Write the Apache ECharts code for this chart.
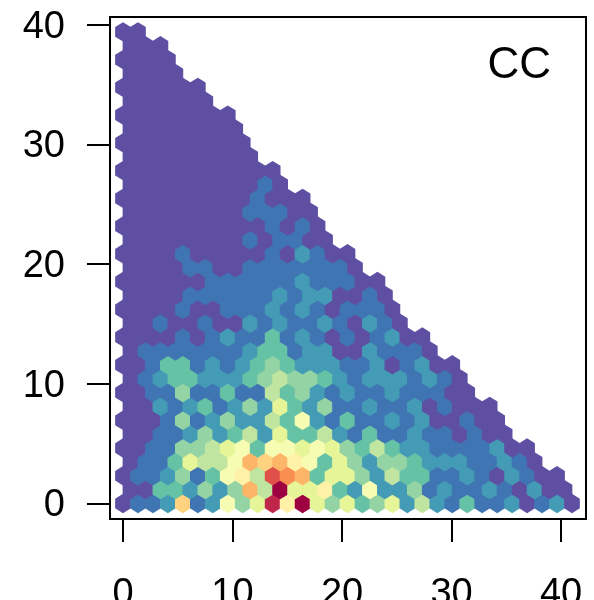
<!DOCTYPE html>
<html>
<head>
<meta charset="utf-8">
<style>html,body{margin:0;padding:0;background:#fff}#chart{width:594px;height:600px}</style>
<script src="https://cdn.jsdelivr.net/npm/echarts@6/dist/echarts.min.js"></script>
</head>
<body>
<div id="chart"></div>
<script>
// hexagon colour level per cell, row 0 is the bottom row, odd rows sit half a cell to the right
const hexRows = [
  [0,1,1,2,9,1,2,7,4,6,13,8,14,6,4,6,3,4,6,2,5,2,1,3,1,1,2,0,1,2,0],
  [0,0,3,3,2,4,2,4,10,5,14,6,6,8,3,2,7,2,2,4,1,2,1,1,2,1,0,2,0,0],
  [0,1,1,2,4,1,3,7,8,5,12,11,10,3,6,6,4,2,5,3,3,1,1,2,1,0,2,1,0,0],
  [0,1,1,3,6,5,5,7,10,9,10,8,7,3,6,4,2,4,4,3,2,2,2,1,1,2,1,0],
  [0,0,1,1,4,4,5,6,7,3,7,7,6,7,6,4,3,5,3,2,2,1,1,1,1,2,0,0],
  [0,0,1,1,2,4,2,3,5,2,6,3,3,5,2,1,3,1,1,2,1,1,0,1,0,0],
  [0,0,0,1,4,1,2,4,2,2,5,3,7,2,1,3,1,1,2,1,2,0,0,1,0,0],
  [0,0,2,1,2,3,1,2,4,2,6,3,2,4,1,1,2,1,1,2,0,1,0,0,0],
  [0,0,1,1,4,1,1,3,1,1,5,3,4,2,1,2,1,1,2,1,1,1,0,0],
  [0,1,2,3,3,2,2,2,3,4,5,4,4,3,2,1,2,2,2,1,2,1,0],
  [0,0,1,3,3,1,2,1,2,3,4,3,2,2,2,1,1,2,0,1,2,0,0],
  [0,1,1,1,1,1,1,1,2,3,3,1,2,2,0,0,2,1,1,1,0],
  [0,0,0,0,1,0,1,2,1,1,3,1,2,1,0,1,0,1,2,0,0],
  [0,0,1,0,0,1,0,0,2,1,2,1,1,2,1,0,2,1,0],
  [0,0,0,0,1,0,0,1,1,1,2,1,2,1,0,1,1,1,0],
  [0,0,0,0,1,1,1,1,1,1,2,1,2,2,0,0,1,0],
  [0,0,0,0,0,0,1,1,1,1,1,1,2,1,1,1,0,0],
  [0,0,0,0,1,1,0,0,1,1,1,1,1,1,1,0],
  [0,0,0,0,1,0,0,0,0,0,1,0,2,1,0,0],
  [0,0,0,0,0,0,0,0,1,0,1,1,0,0],
  [0,0,0,0,0,0,0,0,0,0,1,0,1,0],
  [0,0,0,0,0,0,0,0,1,1,1,0,0],
  [0,0,0,0,0,0,0,0,0,1,0,0,0],
  [0,0,0,0,0,0,0,0,0,1,0],
  [0,0,0,0,0,0,0,0,0,0,0],
  [0,0,0,0,0,0,0,0,0],
  [0,0,0,0,0,0,0,0,0],
  [0,0,0,0,0,0,0,0],
  [0,0,0,0,0,0,0,0],
  [0,0,0,0,0,0],
  [0,0,0,0,0,0],
  [0,0,0,0],
  [0,0,0,0],
  [0,0,0],
  [0,0]
];
const levelColors = ['#5E4FA2','#4075B4','#439BB5','#66C2A5','#94D4A4','#BFE5A0','#E6F598','#F7FCB3','#FFF1A8','#FED27F','#FDB567','#F98E52','#E0504A','#C0254A','#9E0142'];
const tickValues = [0, 10, 20, 30, 40];
const panelLabel = 'CC';

const cellW = 41 / 30;
const cellH = 1.159;
// cells a touch oversized so neighbours overlap and no seam shows
const grow = 1.05;

const cells = [];
hexRows.forEach(function (row, r) {
  row.forEach(function (level, c) {
    cells.push([(c + (r % 2 ? 0.5 : 0)) * cellW, r * cellH, level]);
  });
});

function renderHex(params, api) {
  const x = api.value(0), y = api.value(1);
  const hw = grow * cellW / 2, hh = grow * cellH * 2 / 3;
  const pts = [
    [x, y + hh], [x + hw, y + hh / 2], [x + hw, y - hh / 2],
    [x, y - hh], [x - hw, y - hh / 2], [x - hw, y + hh / 2]
  ].map(function (p) { return api.coord(p); });
  return {
    type: 'polygon',
    shape: { points: pts },
    style: { fill: levelColors[api.value(2)] }
  };
}

const axisFont = { fontFamily: 'Liberation Sans', fontSize: 38, color: '#000' };
const tickStyle = { color: '#000', width: 2 };

const chart = echarts.init(document.getElementById('chart'));
chart.setOption({
  animation: false,
  backgroundColor: '#fff',
  title: {
    text: panelLabel,
    right: 38,
    top: 39,
    textStyle: { fontFamily: 'Liberation Sans', fontSize: 44, fontWeight: 'normal', color: '#000' }
  },
  grid: { left: 110, right: 8, top: 17, bottom: 81, outerBoundsMode: 'none', show: true, borderColor: '#000', borderWidth: 2, backgroundColor: 'transparent' },
  xAxis: {
    type: 'value', min: -1.187, max: 42.28,
    splitLine: { show: false },
    axisLine: { show: false, onZero: false },
    axisTick: { show: true, length: 23, lineStyle: tickStyle, customValues: tickValues },
    axisLabel: Object.assign({ margin: 57, customValues: tickValues, hideOverlap: false }, axisFont)
  },
  yAxis: {
    type: 'value', min: -1.295, max: 40.65,
    splitLine: { show: false },
    axisLine: { show: false, onZero: false },
    axisTick: { show: true, length: 23, lineStyle: tickStyle, customValues: tickValues },
    axisLabel: Object.assign({
      margin: 45,
      customValues: tickValues,
      formatter: '{v|{value}}',
      rich: { v: Object.assign({ padding: [5, 0, 0, 0] }, axisFont) }
    }, axisFont)
  },
  series: [{
    type: 'custom',
    coordinateSystem: 'cartesian2d',
    renderItem: renderHex,
    data: cells,
    encode: { x: 0, y: 1 },
    clip: false,
    silent: true
  }]
});
</script>
</body>
</html>
